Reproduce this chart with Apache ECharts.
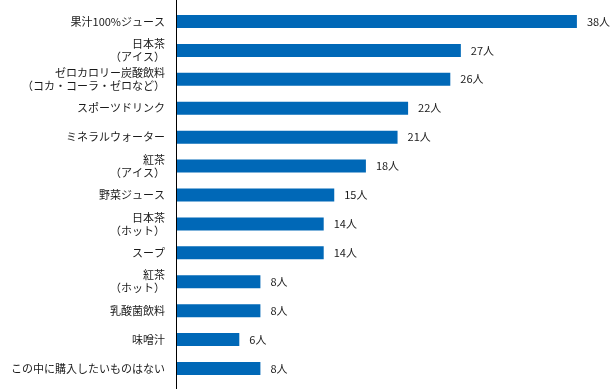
<!DOCTYPE html>
<html><head><meta charset="utf-8">
<script src="https://cdn.jsdelivr.net/npm/echarts@6/dist/echarts.min.js"></script>
<style>html,body{margin:0;padding:0;background:#fff}#c{width:612px;height:389px}</style>
</head><body><div id="c"></div>
<script>
const categories = [
  '果汁100%ジュース',
  '日本茶\n（アイス）',
  'ゼロカロリー炭酸飲料\n（コカ・コーラ・ゼロなど）',
  'スポーツドリンク',
  'ミネラルウォーター',
  '紅茶\n（アイス）',
  '野菜ジュース',
  '日本茶\n（ホット）',
  'スープ',
  '紅茶\n（ホット）',
  '乳酸菌飲料',
  '味噌汁',
  'この中に購入したいものはない'
];
const values = [38, 27, 26, 22, 21, 18, 15, 14, 14, 8, 8, 6, 8];
const unit = '人';

const chart = echarts.init(document.getElementById('c'));
chart.setOption({
  animation: false,
  grid: { left: 176, right: 14, top: 7, bottom: 6 },
  xAxis: { type: 'value', min: 0, max: 40, show: false },
  yAxis: {
    type: 'category', data: categories, inverse: true,
    axisLine: { show: true, lineStyle: { color: '#000', width: 1 } },
    axisTick: { show: false },
    axisLabel: {
      color: '#1a1a1a', fontSize: 11, margin: 11, lineHeight: 13,
      fontFamily: '"Noto Sans CJK JP", sans-serif', align: 'right',
      formatter: v => v.indexOf('\n') >= 0 ? '{m|' + v.split('\n').join('}\n{m|') + '}' : v,
      rich: { m: { fontSize: 11, lineHeight: 13, color: '#1a1a1a', align: 'right',
                   fontFamily: '"Noto Sans CJK JP", sans-serif', padding: [0, 0, 0, 0] } }
    }
  },
  series: [{
    type: 'bar', data: values, barWidth: 13,
    itemStyle: { color: '#0068b7' },
    label: {
      show: true, position: 'right', distance: 10,
      color: '#1a1a1a', fontSize: 11, fontFamily: '"Noto Sans CJK JP", sans-serif',
      formatter: p => p.value + unit
    }
  }],
  graphic: [{
    type: 'line', z: 10,
    shape: { x1: 176.5, y1: 0, x2: 176.5, y2: 389 },
    style: { stroke: '#000', lineWidth: 1 }
  }]
});
</script></body></html>
